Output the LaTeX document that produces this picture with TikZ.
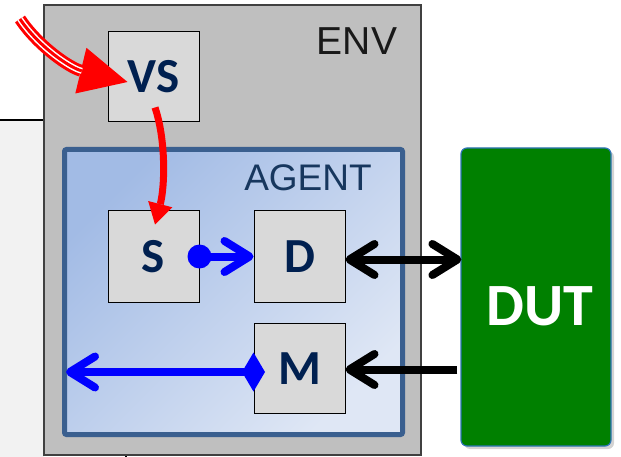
\documentclass[tikz,border=0pt]{standalone}
\usepackage{fontspec}
\setmainfont{Liberation Sans}
\newfontfamily\lblfont{Carlito}
\usetikzlibrary{arrows.meta,shadows,calc}
\definecolor{envgrey}{HTML}{BFBFBF}
\definecolor{envline}{HTML}{404040}
\definecolor{leftgrey}{HTML}{F2F2F2}
\definecolor{boxgrey}{HTML}{D9D9D9}
\definecolor{navy}{HTML}{002050}
\definecolor{agenttxt}{HTML}{17375E}
\definecolor{agentline}{HTML}{3A5F8F}
\definecolor{agenttl}{HTML}{A2BBE5}
\definecolor{agentbr}{HTML}{DFE7F5}
\definecolor{dutgreen}{HTML}{008000}
\definecolor{dutline}{HTML}{2E75B6}
\definecolor{pblue}{HTML}{0000FF}
\definecolor{pred}{HTML}{FF0000}
\tikzset{
  envbox/.style={draw=envline, line width=1.5pt, fill=envgrey, inner sep=0pt,
    minimum width=377pt, minimum height=450pt},
  agentbox/.style={draw=agentline, line width=5pt, rounded corners=2pt, inner sep=0pt,
    top color=agenttl, bottom color=agentbr, shading angle=45,
    minimum width=338pt, minimum height=285pt},
  blockbox/.style={draw=black, line width=1pt, fill=boxgrey, inner sep=0pt,
    minimum width=91pt, minimum height=91pt, text=navy,
    font=\lblfont\bfseries\fontsize{49}{49}\selectfont},
  dutbox/.style={draw=dutline, line width=1.2pt, fill=dutgreen, rounded corners=6pt,
    inner sep=0pt, minimum width=150pt, minimum height=298pt,
    drop shadow={shadow xshift=3pt, shadow yshift=-3pt, opacity=0.35}},
  duttext/.style={text=white, inner sep=0pt, font=\lblfont\bfseries\fontsize{60}{60}\selectfont},
  envtext/.style={text=black!90, inner sep=0pt, font=\fontsize{39}{39}\selectfont},
  agenttext/.style={text=agenttxt, inner sep=0pt, font=\fontsize{37}{37}\selectfont},
  barb/.tip={Straight Barb[round,length=25pt,width=31pt]},
  bluearrow/.style={pblue, line width=8pt, -barb},
  blackarrow/.style={black, line width=8pt},
}
\begin{document}
\begin{tikzpicture}[x=1pt,y=-1pt]
\useasboundingbox (0,0) rectangle (621,457);
% left background region
\fill[leftgrey] (0,120) rectangle (44,457);
\draw[black, line width=2pt] (0,120) -- (44,120);
\draw[black, line width=2pt] (126,455) -- (126,457);
% ENV
\node[envbox] (env) at (232.5,230) {};
\node[envtext] (envl) at (357,41) {ENV};
% AGENT
\node[agentbox] (agent) at (233.5,292) {};
\node[agenttext] (agentl) at (308,178) {AGENT};
% blocks
\node[blockbox, minimum height=90pt] (VS) at (153.5,77) {VS};
\node[blockbox] (S) at (153.5,256.5) {S};
\node[blockbox] (D) at (299.5,256.5) {D};
\node[blockbox, minimum height=90pt] (M) at (299.5,368.5) {M};
% DUT
\node[dutbox] (DUT) at (536,297) {};
\node[duttext] (dutl) at (540,306) {DUT};
% red triple arrow into VS
\coordinate (redsrc) at (20,19);
\coordinate (vsin) at ($(VS.west)+(20,5)$);
\draw[pred, line width=12pt, -{Triangle[length=48pt,width=47pt,line width=0pt]}]
  (redsrc) .. controls (38,46) and (70,68) .. (vsin);
\draw[white, line width=6pt, shorten >=47pt]
  (redsrc) .. controls (38,46) and (70,68) .. (vsin);
\draw[pred, line width=3pt, shorten >=47pt]
  (redsrc) .. controls (38,46) and (70,68) .. (vsin);
% red VS -> S
\coordinate (vsout) at ($(VS.south)+(1.5,-15)$);
\coordinate (sin) at ($(S.north)+(1.5,14)$);
\draw[pred, line width=7pt, -{Triangle[length=21pt,width=25pt,line width=0pt]}]
  (vsout) .. controls (166,140) and (165,186) .. (sin);
% blue S -> D
\fill[pblue] (S.east) circle[radius=12];
\draw[bluearrow] (S.east) -- (D.west);
% blue M -> left
\coordinate (mdot) at ($(M.west)+(0,3.5)$);
\coordinate (mleft) at (66,372);
\draw[bluearrow] (mdot) -- (mleft);
\fill[pblue] ($(mdot)+(-11.5,0)$) -- ($(mdot)+(0,-19.5)$) -- ($(mdot)+(11.5,0)$) -- ($(mdot)+(0,19.5)$) -- cycle;
% black D <-> DUT
\draw[blackarrow, barb-barb]
  ($(D.east)+(0,3)$) -- ($(D.east -| DUT.west)+(1,3)$);
% black DUT -> M
\draw[blackarrow, -barb, shorten <=3pt]
  ($(M.east -| DUT.west)+(0,1)$) -- ($(M.east)+(0,1)$);
\end{tikzpicture}
\end{document}
